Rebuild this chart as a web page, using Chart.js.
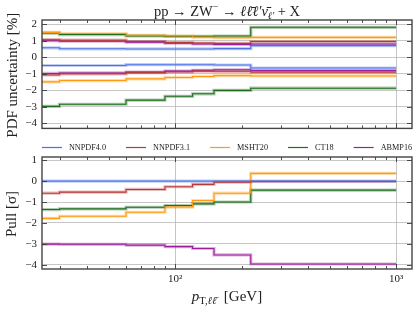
<!DOCTYPE html>
<html><head><meta charset="utf-8">
<script src="https://cdn.jsdelivr.net/npm/chart.js@4.4.0/dist/chart.umd.min.js"></script>
<style>
html,body{margin:0;padding:0;background:#fff;}
#w{position:relative;width:415px;height:311px;overflow:hidden;}
#c1{position:absolute;left:0;top:0;}
#c2{position:absolute;left:0;top:140px;}
</style></head><body>
<div id="w"><canvas id="c1" width="415" height="140"></canvas><canvas id="c2" width="415" height="171"></canvas></div>
<script>
// ---- data ----
const binEdges = [25, 30, 60, 90, 120, 150, 220, 1000];
const pdfNames = ['NNPDF4.0', 'NNPDF3.1', 'MSHT20', 'CT18', 'ABMP16'];
const pdfColors = ['#4a72e6', '#b93838', '#ff9a12', '#1e6e1e', '#9b1f9b'];
const bandColors = ['rgba(74,114,230,0.35)', 'rgba(185,56,56,0.35)', 'rgba(255,154,18,0.35)', 'rgba(30,110,30,0.35)', 'rgba(155,31,155,0.35)'];

// PDF uncertainty [%], upper and lower edges per bin
const nnpdf40Up = [0.57, 0.51, 0.50, 0.50, 0.50, 0.52, 0.70];
const nnpdf40Dn = [-0.50, -0.50, -0.45, -0.45, -0.45, -0.47, -0.65];
const nnpdf31Up = [1.06, 1.03, 0.95, 0.89, 0.86, 0.84, 0.95];
const nnpdf31Dn = [-1.07, -1.00, -0.93, -0.88, -0.84, -0.85, -0.90];
const msht20Up = [1.50, 1.43, 1.33, 1.28, 1.22, 1.18, 1.20];
const msht20Dn = [-1.49, -1.41, -1.31, -1.22, -1.16, -1.11, -1.13];
const ct18Up = [1.46, 1.37, 1.29, 1.26, 1.26, 1.28, 1.81];
const ct18Dn = [-2.97, -2.84, -2.59, -2.36, -2.21, -2.00, -1.87];
const abmp16Up = [1.00, 0.97, 0.91, 0.85, 0.80, 0.77, 0.80];
const abmp16Dn = [-0.98, -0.95, -0.90, -0.84, -0.79, -0.76, -0.80];

// Pull [sigma]
const nnpdf40Pull = [0, 0, 0, 0, 0, 0, 0];
const nnpdf31Pull = [-0.58, -0.53, -0.40, -0.27, -0.16, -0.05, -0.02];
const msht20Pull = [-1.78, -1.68, -1.49, -1.24, -0.93, -0.58, 0.37];
const ct18Pull = [-1.36, -1.33, -1.25, -1.17, -1.09, -1.00, -0.43];
const abmp16Pull = [-3.01, -3.02, -3.06, -3.13, -3.22, -3.53, -3.96];

const xMin = 25, xMax = 1180;
const yTopTicks = [-4, -3, -2, -1, 0, 1, 2];
const yBotTicks = [-4, -3, -2, -1, 0, 1];
const xMajor = [100, 1000];
const xMinor = [30, 40, 50, 60, 70, 80, 90, 200, 300, 400, 500, 600, 700, 800, 900];

const upSets = [nnpdf40Up, nnpdf31Up, msht20Up, ct18Up, abmp16Up];
const dnSets = [nnpdf40Dn, nnpdf31Dn, msht20Dn, ct18Dn, abmp16Dn];
const pullSets = [nnpdf40Pull, nnpdf31Pull, msht20Pull, ct18Pull, abmp16Pull];

const SERIF = '"Liberation Serif", "DejaVu Serif", serif';
const fmt = v => (v < 0 ? '\u2212' + Math.abs(v) : String(v));

function stepPts(vals) {
  return binEdges.map((e, i) => ({x: e, y: vals[Math.min(i, vals.length - 1)]}));
}
function makeSets(list) {
  const ds = [];
  list.forEach((vals, k) => {
    ds.push({data: stepPts(vals), borderColor: pdfColors[k], borderWidth: 1.1, stepped: 'before', pointRadius: 0, order: 0, fill: false});
    ds.push({data: stepPts(vals), borderColor: bandColors[k], borderWidth: 3.2, stepped: 'before', pointRadius: 0, order: 1, fill: false});
  });
  return ds;
}

function drawRich(ctx, parts, cx, y) {
  let w = 0;
  parts.forEach(p => { ctx.font = p.f; w += ctx.measureText(p.t).width; });
  let x = cx - w / 2;
  ctx.textBaseline = 'alphabetic';
  ctx.textAlign = 'left';
  parts.forEach(p => { ctx.font = p.f; ctx.fillText(p.t, x, y + (p.dy || 0)); x += ctx.measureText(p.t).width; });
}

function framePlugin(yTicks, extra) {
  return {
    id: 'frame',
    afterDraw(chart) {
      const ctx = chart.ctx, a = chart.chartArea, xs = chart.scales.x, ys = chart.scales.y;
      ctx.save();
      ctx.strokeStyle = '#3a3a3a';
      ctx.lineWidth = 0.9;
      ctx.beginPath();
      xMinor.forEach(v => { const px = Math.round(xs.getPixelForValue(v)) + 0.5; ctx.moveTo(px, a.bottom); ctx.lineTo(px, a.bottom - 3); ctx.moveTo(px, a.top); ctx.lineTo(px, a.top + 3); });
      xMajor.forEach(v => { const px = Math.round(xs.getPixelForValue(v)) + 0.5; ctx.moveTo(px, a.bottom); ctx.lineTo(px, a.bottom - 5); ctx.moveTo(px, a.top); ctx.lineTo(px, a.top + 5); });
      yTicks.forEach(v => { const py = Math.round(ys.getPixelForValue(v)) + 0.5; ctx.moveTo(a.left, py); ctx.lineTo(a.left + 5, py); ctx.moveTo(a.right, py); ctx.lineTo(a.right - 5, py); });
      ctx.stroke();
      ctx.lineWidth = 1.4;
      ctx.strokeStyle = '#444';
      ctx.strokeRect(a.left, a.top, a.right - a.left, a.bottom - a.top);
      ctx.fillStyle = '#222';
      extra(ctx, a);
      ctx.restore();
    }
  };
}

function commonScales(yMin, yMax, xTicksShown) {
  return {
    x: {
      type: 'logarithmic', min: xMin, max: xMax,
      afterBuildTicks: s => { s.ticks = xMajor.map(v => ({value: v})); },
      afterFit: s => { s.height = xTicksShown ? 20 : 0; },
      border: {display: false},
      grid: {color: '#b8b8b8', lineWidth: 0.8, drawTicks: false, borderDash: [1, 1.5]},
      ticks: {display: xTicksShown, padding: 4, color: '#222', font: {family: SERIF, size: 11},
        callback: v => (v === 100 ? '10\u00B2' : v === 1000 ? '10\u00B3' : '')}
    },
    y: {
      min: yMin, max: yMax,
      afterFit: s => { s.width = 42; },
      border: {display: false},
      grid: {color: '#b8b8b8', lineWidth: 0.8, drawTicks: false, borderDash: [1, 1.5]},
      ticks: {stepSize: 1, includeBounds: false, padding: 5, color: '#222', font: {family: SERIF, size: 11}, callback: v => fmt(v)}
    }
  };
}

new Chart(document.getElementById('c1'), {
  type: 'line',
  data: {datasets: makeSets(upSets).concat(makeSets(dnSets))},
  options: {
    responsive: false, animation: false, devicePixelRatio: 1,
    layout: {padding: {top: 20, right: 3, bottom: 3, left: 0}},
    plugins: {legend: {display: false}, tooltip: {enabled: false}},
    scales: commonScales(-4.3, 2.25, false)
  },
  plugins: [framePlugin(yTopTicks, (ctx, a) => {
    const reg = '14.5px ' + SERIF, it = 'italic 14.5px ' + SERIF, sm = '10px ' + SERIF, smi = 'italic 10px ' + SERIF;
    drawRich(ctx, [
      {t: 'pp \u2192 ZW', f: reg}, {t: '\u2212', f: sm, dy: -6}, {t: ' \u2192 ', f: reg},
      {t: '\u2113\u2113\u0304\u2113\u2032\u03BD\u0304', f: it}, {t: '\u2113\u2032', f: smi, dy: 3}, {t: ' + X', f: reg}
    ], (a.left + a.right) / 2, 16);
    ctx.save();
    ctx.translate(13, (a.top + a.bottom) / 2 + 1);
    ctx.rotate(-Math.PI / 2);
    ctx.font = '15px ' + SERIF; ctx.textAlign = 'center'; ctx.textBaseline = 'middle';
    ctx.fillText('PDF uncertainty [%]', 0, 0);
    ctx.restore();
  })]
});

new Chart(document.getElementById('c2'), {
  type: 'line',
  data: {datasets: makeSets(pullSets)},
  options: {
    responsive: false, animation: false, devicePixelRatio: 1,
    layout: {padding: {top: 17, right: 3, bottom: 22, left: 0}},
    plugins: {legend: {display: false}, tooltip: {enabled: false}},
    scales: commonScales(-4.2, 1.15, true)
  },
  plugins: [framePlugin(yBotTicks, (ctx, a) => {
    // legend
    ctx.font = '8.2px ' + SERIF;
    const gap = 20, lineW = 20, tgap = 7;
    let tot = 0;
    pdfNames.forEach((n, i) => { tot += lineW + tgap + ctx.measureText(n).width + (i ? gap : 0); });
    let x = (a.left + a.right) / 2 - tot / 2;
    const ly = 7.5;
    pdfNames.forEach((n, i) => {
      ctx.strokeStyle = pdfColors[i]; ctx.lineWidth = 1.2;
      ctx.beginPath(); ctx.moveTo(x, ly); ctx.lineTo(x + lineW, ly); ctx.stroke();
      ctx.fillStyle = '#222'; ctx.textAlign = 'left'; ctx.textBaseline = 'middle';
      ctx.fillText(n, x + lineW + tgap, ly);
      x += lineW + tgap + ctx.measureText(n).width + gap;
    });
    // y title
    ctx.save();
    ctx.translate(12, (a.top + a.bottom) / 2 + 1);
    ctx.rotate(-Math.PI / 2);
    ctx.font = '15px ' + SERIF; ctx.textAlign = 'center'; ctx.textBaseline = 'middle';
    ctx.fillText('Pull [\u03C3]', 0, 0);
    ctx.restore();
    // x title
    const reg = '15px ' + SERIF, it = 'italic 15px ' + SERIF, sm = '10.5px ' + SERIF, smi = 'italic 10.5px ' + SERIF;
    drawRich(ctx, [
      {t: 'p', f: it}, {t: 'T,', f: sm, dy: 3}, {t: '\u2113\u2113\u0304', f: smi, dy: 3}, {t: '  [GeV]', f: reg}
    ], (a.left + a.right) / 2, 161);
  })]
});
</script>
</body></html>
